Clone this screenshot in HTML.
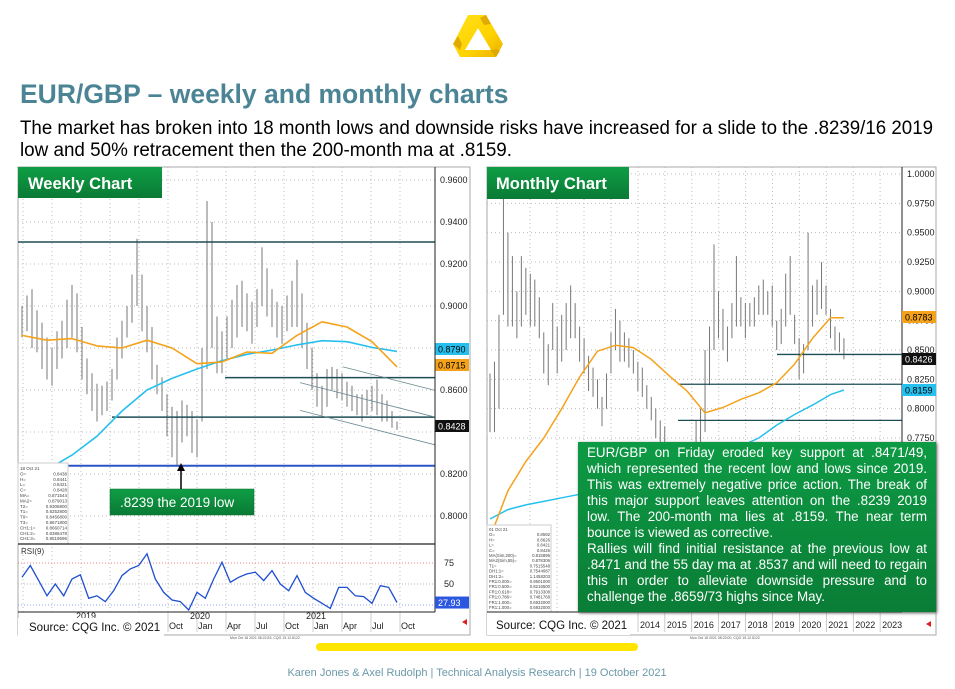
<!DOCTYPE html>
<html><head><meta charset="utf-8">
<style>
html,body{margin:0;padding:0;background:#fff;}
body{width:955px;height:689px;position:relative;overflow:hidden;font-family:"Liberation Sans",Arial,sans-serif;}
#note{position:absolute;left:578px;top:442px;width:358px;height:170px;box-sizing:border-box;padding:3px 9px 0 9px;
background:linear-gradient(#0d9a44,#0a7d36);color:#fff;font-size:13.4px;line-height:16px;text-align:justify;box-shadow:1px 1px 3px #555;}
</style></head>
<body>
<svg id="svg" width="955" height="689" viewBox="0 0 955 689" xmlns="http://www.w3.org/2000/svg" style="position:absolute;left:0;top:0">
<defs>
<linearGradient id="gg" x1="0" y1="0" x2="0" y2="1"><stop offset="0" stop-color="#0f9e45"/><stop offset="1" stop-color="#0a7a35"/></linearGradient>
<linearGradient id="lg" x1="0" y1="0" x2="1" y2="1"><stop offset="0" stop-color="#ffe21a"/><stop offset="0.6" stop-color="#ffd200"/><stop offset="1" stop-color="#e8b000"/></linearGradient>
<clipPath id="cw"><rect x="18" y="167" width="417" height="377"/></clipPath>
<clipPath id="cr"><rect x="18" y="545" width="417" height="67"/></clipPath>
<clipPath id="cm"><rect x="487" y="167" width="415" height="445"/></clipPath>
</defs>
<g>
<path d="M468,15 L486,15 L503,44 L496,57 L460,57 L453,44 Z M478,28 L465,50 L491,50 Z" fill="url(#lg)" fill-rule="evenodd"/>
<polygon points="486,15 491,24 484,25 480,18" fill="#d8a000" opacity="0.8"/>
<polygon points="453,44 458,36 462,44 460,50" fill="#d8a000" opacity="0.8"/>
<polygon points="496,57 490,50 497,49 500,51" fill="#d8a000" opacity="0.7"/>
</g>
<text x="20" y="103" font-size="26.5" font-weight="bold" fill="#4b8595">EUR/GBP – weekly and monthly charts</text>
<text x="20" y="134" font-size="19" fill="#000" textLength="913" lengthAdjust="spacingAndGlyphs">The market has broken into 18 month lows and downside risks have increased for a slide to the .8239/16 2019</text>
<text x="20" y="156" font-size="19" fill="#000" textLength="492" lengthAdjust="spacingAndGlyphs">low and 50% retracement then the 200-month ma at .8159.</text>
<g id="weekly"></g>
<g id="monthly"></g>
<rect x="316" y="643" width="322" height="8" rx="4" fill="#ffe500"/>
<text x="477" y="676" font-size="11" fill="#6a98a8" text-anchor="middle">Karen Jones &amp; Axel Rudolph  |  Technical Analysis Research  |  19 October 2021</text>
</svg>
<div id="note">EUR/GBP on Friday eroded key support at .8471/49, which represented the recent low and lows since 2019. This was extremely negative price action. The break of this major support leaves attention on the .8239 2019 low. The 200-month ma lies at .8159. The near term bounce is viewed as corrective.<br>Rallies will find initial resistance at the previous low at .8471 and the 55 day ma at .8537 and will need to regain this in order to alleviate downside pressure and to challenge the .8659/73 highs since May.</div>
<script>
// ---- Weekly data (bar = ~2 weeks) ----
const wLows=[.885,.888,.880,.878,.870,.865,.862,.870,.875,.880,.885,.878,.865,.858,.850,.845,.848,.850,.855,.865,.875,.885,.892,.900,.888,.878,.865,.858,.850,.838,.828,.824,.835,.838,.830,.828,.845,.870,.880,.868,.868,.875,.880,.885,.890,.888,.882,.890,.900,.895,.890,.885,.882,.888,.890,.890,.880,.870,.860,.852,.848,.852,.860,.856,.855,.852,.850,.848,.845,.848,.850,.848,.845,.845,.842,.841];
const wHighs=[.900,.905,.908,.898,.892,.885,.880,.888,.893,.903,.910,.906,.890,.875,.868,.863,.862,.864,.870,.885,.893,.900,.915,.932,.915,.900,.890,.872,.866,.858,.852,.850,.855,.853,.850,.846,.880,.950,.940,.895,.888,.895,.903,.910,.912,.906,.902,.908,.928,.918,.908,.902,.900,.905,.912,.922,.906,.892,.880,.868,.862,.870,.871,.870,.868,.864,.862,.858,.858,.860,.862,.865,.858,.855,.850,.845];
const wMaIdx=[0,5,10,15,20,25,30,35,40,45,50,55,60,65,70,75];
const wMa55=[.886,.8837,.8845,.881,.880,.8837,.880,.8725,.8734,.8781,.8775,.886,.8925,.890,.883,.871];
const wMa200=[null,.822,.829,.838,.850,.860,.8655,.870,.874,.877,.879,.8815,.8835,.883,.8803,.8784];
const wPriceTicks=[0.96,0.94,0.92,0.90,0.88,0.86,0.84,0.82,0.80];
const wRsi=[58,72,54,36,50,36,56,61,33,36,29,42,60,68,72,86,56,40,31,29,19,40,33,56,76,52,58,62,64,54,66,50,42,60,40,33,27,21,46,46,36,35,27,48,46,27.93];
const wMonthLabels=["Oct","Jan","Apr","Jul","Oct","Jan","Apr","Jul","Oct"];
const wYearLabels=["2019","2020","2021"];
// ---- Monthly data (bar = 2 months) ----
const mLows=[.78,.78,.80,.88,.87,.87,.86,.87,.88,.87,.87,.86,.83,.82,.85,.83,.84,.85,.86,.86,.84,.83,.815,.81,.80,.785,.80,.83,.85,.84,.84,.835,.83,.815,.81,.80,.79,.775,.765,.76,.745,.73,.72,.70,.70,.71,.74,.76,.78,.82,.85,.86,.85,.84,.86,.87,.87,.86,.87,.87,.88,.88,.88,.87,.85,.855,.87,.88,.855,.825,.83,.85,.87,.88,.885,.88,.86,.85,.848,.842];
const mHighs=[.83,.84,.88,.98,.95,.93,.90,.93,.92,.915,.91,.895,.865,.855,.89,.87,.88,.89,.905,.89,.87,.86,.845,.835,.825,.81,.83,.865,.885,.875,.865,.86,.85,.84,.835,.82,.81,.80,.79,.785,.77,.755,.74,.73,.725,.74,.79,.80,.85,.87,.94,.90,.885,.87,.89,.93,.895,.89,.89,.895,.905,.91,.90,.905,.875,.885,.915,.93,.88,.86,.855,.95,.905,.91,.925,.905,.885,.87,.865,.86];
const mMaIdx=[0,4,8,12,16,20,24,28,32,36,40,44,48,52,56,60,64,68,72,76,79];
const mMa55=[.690,.730,.755,.775,.800,.827,.849,.854,.852,.842,.828,.815,.7965,.801,.808,.8135,.822,.838,.860,.8775,.8775];
const mMa200=[.706,.714,.718,.721,.724,.727,.730,.733,.736,.740,.745,.750,.756,.762,.768,.775,.786,.795,.803,.812,.8159];
const mPriceTicks=[1.0,0.975,0.95,0.925,0.90,0.875,0.85,0.825,0.80,0.775];
const mYears=["2014","2015","2016","2017","2018","2019","2020","2021","2022","2023"];

const NS="http://www.w3.org/2000/svg";
function mk(parent,tag,attrs,txt){const e=document.createElementNS(NS,tag);for(const k in attrs)e.setAttribute(k,attrs[k]);if(txt!==undefined)e.textContent=txt;parent.appendChild(e);return e;}
function fmt(v){return v.toFixed(4);}

// ===== WEEKLY =====
const W=document.getElementById('weekly');
const yW=v=>180+(0.96-v)*2100;
const xW=i=>22+5*i;
const yR=r=>584-(r-50)*0.84;
const xR=i=>22+i*(375/(wRsi.length-1));
let e;
e=mk(W,'rect',{x:18,y:167,width:452,height:468,fill:'#fff',stroke:'#aaa','stroke-width':1});


const wgx=[23,52,81,110,139,168,197,226,255,284,313,342,371,400];
wgx.forEach(x=>{e=mk(W,'line',{x1:x,y1:167,x2:x,y2:612,stroke:'#bbb','stroke-dasharray':'1,3'});

});
wPriceTicks.forEach(v=>{e=mk(W,'line',{x1:18,y1:yW(v),x2:435,y2:yW(v),stroke:'#bbb','stroke-dasharray':'1,3'});


if(v!==0.84){e=mk(W,'text',{x:440,y:yW(v)+3,'font-size':9,fill:'#222'},fmt(v));

}});
const gw=mk(W,'g',{'clip-path':'url(#cw)'});
wLows.forEach((lo,i)=>{e=mk(gw,'line',{x1:xW(i),y1:yW(wHighs[i]),x2:xW(i),y2:yW(lo),stroke:'#777','stroke-width':1});

});
function hline(g,v,x1,x2,col,w,yf){e=mk(g,'line',{x1:x1,y1:yf(v),x2:x2,y2:yf(v),stroke:col,'stroke-width':w});return e;}
e=hline(gw,0.9305,18,435,'#1d4d55',1.5,yW);
e=hline(gw,0.8659,225,435,'#1d4d55',1.5,yW);
e=hline(gw,0.8471,112,435,'#1d4d55',1.5,yW);
e=hline(gw,0.8239,18,435,'#2b56c8',2,yW);
[[343,.871,435,.8598],[300,.8635,435,.8471],[300,.8503,435,.8339]].forEach(c=>{e=mk(gw,'line',{x1:c[0],y1:yW(c[1]),x2:c[2],y2:yW(c[3]),stroke:'#6a8a90','stroke-width':0.8});

});
function path(g,idx,vals,xf,yf,col,w){let d='';let pen=false;vals.forEach((v,k)=>{if(v===null){pen=false;return;}d+=(pen?'L':'M')+xf(idx[k]).toFixed(1)+','+yf(v).toFixed(1);pen=true;});return mk(g,'path',{d:d,fill:'none',stroke:col,'stroke-width':w,'stroke-linejoin':'round'});}
e=path(gw,wMaIdx,wMa200,xW,yW,'#27c0ee',1.6);
e=path(gw,wMaIdx,wMa55,xW,yW,'#f5a21b',1.6);
function tag(g,y,val,bg,fg,x,w){const t=mk(g,'g',{});mk(t,'rect',{x:x,y:y-6,width:w,height:12,fill:bg});mk(t,'text',{x:x+3,y:y+3.5,'font-size':9,fill:fg},val);return t;}
e=tag(W,349,'0.8790','#27c0ee','#000',435,34);
e=tag(W,365,'0.8715','#f5a21b','#000',435,34);
e=tag(W,426,'0.8428','#111','#fff',435,34);
const ib=mk(W,'g',{});
mk(ib,'rect',{x:18,y:463,width:50,height:81,fill:'#fff',stroke:'#ccc'});
const wInfo=[["18 Oct 21",""],["O=","0.8438"],["H=","0.8441"],["L=","0.8421"],["C=","0.8428"],["MA=","0.871544"],["MA2=","0.879013"],["T2=","0.9306800"],["T1=","0.8252800"],["T0=","0.8456800"],["T3=","0.8671800"],["CH1:1=","0.8660714"],["CH1:2=","0.8386478"],["CH1:3=","0.8519696"]];
wInfo.forEach((r,k)=>{mk(ib,'text',{x:20,y:470+k*5.4,'font-size':4.5,fill:'#444'},r[0]);mk(ib,'text',{x:67,y:470+k*5.4,'font-size':4.5,fill:'#444','text-anchor':'end'},r[1]);});
e=mk(W,'rect',{x:110,y:489,width:144,height:26,fill:'url(#gg)',stroke:'#0a6a2e','stroke-width':0.5});

e=mk(W,'text',{x:120,y:507,'font-size':13.5,fill:'#fff'},'.8239 the 2019 low');

e=mk(W,'line',{x1:181,y1:489,x2:181,y2:470,stroke:'#000','stroke-width':1.5});

mk(W,'polygon',{points:'177,471 185,471 181,463',fill:'#000'});
e=mk(W,'line',{x1:18,y1:544,x2:435,y2:544,stroke:'#222','stroke-width':1.2});

e=mk(W,'line',{x1:435,y1:167,x2:435,y2:612,stroke:'#222','stroke-width':1});

[[75,'#f08080'],[50,'#bbb'],[25,'#8fa8f0']].forEach(a=>{e=mk(W,'line',{x1:18,y1:yR(a[0]),x2:435,y2:yR(a[0]),stroke:a[1],'stroke-dasharray':'1,2'});
});
e=mk(W,'text',{x:444,y:yR(75)+3,'font-size':9,fill:'#222'},'75');
e=mk(W,'text',{x:444,y:yR(50)+3,'font-size':9,fill:'#222'},'50');
e=mk(W,'text',{x:21,y:554,'font-size':8,fill:'#333'},'RSI(9)');
const gr=mk(W,'g',{'clip-path':'url(#cr)'});
let rd='';wRsi.forEach((r,i)=>{rd+=(i?'L':'M')+xR(i).toFixed(1)+','+yR(r).toFixed(1);});
e=mk(gr,'path',{d:rd,fill:'none',stroke:'#1f4fd0','stroke-width':1.3});

e=tag(W,yR(wRsi[wRsi.length-1]),'27.93','#2b56e0','#fff',435,34);
e=mk(W,'line',{x1:18,y1:612,x2:435,y2:612,stroke:'#222'});
const wmx=[168,197,226,255,284,313,342,371,400];
wMonthLabels.forEach((m,k)=>{e=mk(W,'text',{x:wmx[k]+1,y:629,'font-size':9,fill:'#222'},m);

mk(W,'line',{x1:wmx[k],y1:612,x2:wmx[k],y2:632,stroke:'#999','stroke-width':0.5});});
[76,190,306].forEach((x,k)=>{e=mk(W,'text',{x:x,y:619,'font-size':9,fill:'#222'},wYearLabels[k]);
});
e=mk(W,'rect',{x:18,y:167,width:144,height:31,fill:'url(#gg)'});
e=mk(W,'text',{x:28,y:189,'font-size':16.5,'font-weight':'bold',fill:'#fff'},'Weekly Chart');
e=mk(W,'rect',{x:18,y:618,width:146,height:18,fill:'#fff'});
e=mk(W,'text',{x:29,y:631,'font-size':11.5,fill:'#111'},'Source: CQG Inc. © 2021');
e=mk(W,'polygon',{points:'462,622 467,619 467,625',fill:'#e02020'});
e=mk(W,'text',{x:230,y:639,'font-size':3.5,fill:'#555'},'Mon Oct 18 2021 08:22:53, CQG 19.12.8122');

// ===== MONTHLY =====
const M=document.getElementById('monthly');
const yM=v=>174+(1-v)*1173.3;
const xM=i=>490+4.48*i;
e=mk(M,'rect',{x:487,y:167,width:449,height:468,fill:'#fff',stroke:'#aaa'});

const myx=mYears.map((y,k)=>638+26.9*k);
[530,557,584,611].concat(myx).forEach(x=>{e=mk(M,'line',{x1:x,y1:167,x2:x,y2:612,stroke:'#bbb','stroke-dasharray':'1,3'});
});
mPriceTicks.forEach(v=>{e=mk(M,'line',{x1:487,y1:yM(v),x2:902,y2:yM(v),stroke:'#bbb','stroke-dasharray':'1,3'});

e=mk(M,'text',{x:907,y:yM(v)+3,'font-size':9,fill:'#222'},fmt(v));
});
const gm=mk(M,'g',{'clip-path':'url(#cm)'});
mLows.forEach((lo,i)=>{e=mk(gm,'line',{x1:xM(i),y1:yM(mHighs[i]),x2:xM(i),y2:yM(lo),stroke:'#777','stroke-width':1});
});
e=hline(gm,0.8462,777,902,'#1d4d55',1.3,yM);
e=hline(gm,0.8208,678,902,'#1d4d55',1.3,yM);
e=hline(gm,0.790,678,902,'#1d4d55',1.3,yM);
e=path(gm,mMaIdx,mMa200,xM,yM,'#27c0ee',1.5);
e=path(gm,mMaIdx,mMa55,xM,yM,'#f5a21b',1.5);
e=mk(M,'line',{x1:902,y1:167,x2:902,y2:612,stroke:'#222'});
e=tag(M,317,'0.8783','#f5a21b','#000',902,34);
e=tag(M,359,'0.8426','#111','#fff',902,34);
e=tag(M,390,'0.8159','#27c0ee','#000',902,34);
const mb=mk(M,'g',{});
mk(mb,'rect',{x:487,y:525,width:64,height:87,fill:'#fff',stroke:'#ccc'});
const mInfo=[["01 Oct 21",""],["O=","0.8592"],["H=","0.8626"],["L=","0.8421"],["C=","0.8426"],["MA(Sim,200)=","0.815896"],["MA2(Sim,55)=","0.878306"],["T1=","0.7515548"],["DH1:1=","0.7544087"],["DH1:2=","1.1458203"],["FR1:0.000=","0.9501000"],["FR1:0.500=","0.8216500"],["FR1:0.618=","0.7913308"],["FR1:0.786=","0.7481768"],["FR1:1.000=","0.6932000"],["FR1:1.000=","0.6932000"]];
mInfo.forEach((r,k)=>{mk(mb,'text',{x:489,y:531+k*5.2,'font-size':4.3,fill:'#444'},r[0]);mk(mb,'text',{x:550,y:531+k*5.2,'font-size':4.3,fill:'#444','text-anchor':'end'},r[1]);});
e=mk(M,'line',{x1:487,y1:612,x2:902,y2:612,stroke:'#222'});
mYears.forEach((y,k)=>{mk(M,'line',{x1:myx[k],y1:612,x2:myx[k],y2:632,stroke:'#999','stroke-width':0.5});
e=mk(M,'text',{x:myx[k]+2,y:628,'font-size':9,fill:'#222'},y);
});
e=mk(M,'rect',{x:487,y:167,width:142,height:32,fill:'url(#gg)'});
e=mk(M,'text',{x:496,y:189,'font-size':16.5,'font-weight':'bold',fill:'#fff'},'Monthly Chart');
e=mk(M,'rect',{x:487,y:613,width:143,height:22,fill:'#fff'});
e=mk(M,'text',{x:496,y:629,'font-size':11.5,fill:'#111'},'Source: CQG Inc. © 2021');
e=mk(M,'polygon',{points:'926,624 931,621 931,627',fill:'#e02020'});
e=mk(M,'text',{x:690,y:639,'font-size':3.5,fill:'#555'},'Mon Oct 18 2021 08:23:00, CQG 19.12.8122');
</script>
</body></html>
